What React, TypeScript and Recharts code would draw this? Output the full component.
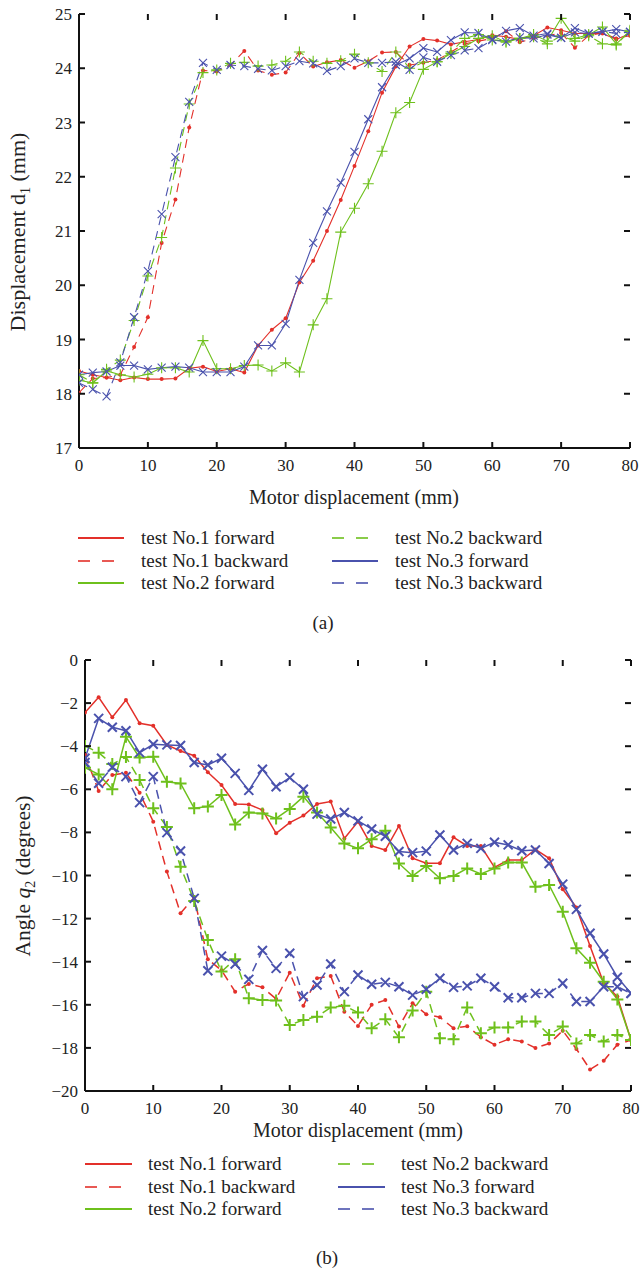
import React from 'react';
import { LineChart, Line, XAxis, YAxis } from 'recharts';

// ---------- data ----------
const MOTOR_X = [0, 2, 4, 6, 8, 10, 12, 14, 16, 18, 20, 22, 24, 26, 28, 30, 32, 34, 36, 38, 40, 42, 44, 46, 48, 50, 52, 54, 56, 58, 60, 62, 64, 66, 68, 70, 72, 74, 76, 78, 80];
const X_TICKS = [0, 10, 20, 30, 40, 50, 60, 70, 80];
const D1_TICKS = [17, 18, 19, 20, 21, 22, 23, 24, 25];
const Q2_TICKS = [0, -2, -4, -6, -8, -10, -12, -14, -16, -18, -20];

// (a) Displacement d1 (mm)
const d1Test1Fwd = [18.42, 18.35, 18.30, 18.25, 18.30, 18.27, 18.27, 18.28, 18.47, 18.50, 18.41, 18.46, 18.39, 18.89, 19.18, 19.39, 20.05, 20.45, 21.00, 21.57, 22.20, 22.84, 23.55, 24.03, 24.40, 24.54, 24.51, 24.44, 24.49, 24.53, 24.61, 24.58, 24.53, 24.60, 24.75, 24.70, 24.64, 24.64, 24.64, 24.53, 24.64];
const d1Test1Bwd = [18.02, 18.28, 18.30, 18.35, 18.86, 19.41, 20.78, 21.58, 22.91, 23.96, 23.94, 24.06, 24.32, 23.96, 23.88, 23.92, 24.28, 24.03, 24.11, 24.15, 24.01, 24.13, 24.29, 24.30, 24.06, 24.10, 24.15, 24.30, 24.45, 24.50, 24.55, 24.68, 24.48, 24.55, 24.60, 24.65, 24.38, 24.60, 24.65, 24.55, 24.60];
const d1Test2Fwd = [18.25, 18.20, 18.42, 18.35, 18.31, 18.36, 18.48, 18.48, 18.40, 18.98, 18.46, 18.46, 18.52, 18.53, 18.42, 18.57, 18.40, 19.27, 19.75, 20.98, 21.42, 21.87, 22.47, 23.18, 23.37, 23.98, 24.12, 24.27, 24.40, 24.55, 24.60, 24.48, 24.55, 24.62, 24.50, 24.92, 24.55, 24.62, 24.76, 24.45, 24.68];
const d1Test2Bwd = [18.35, 18.20, 18.45, 18.62, 19.35, 20.17, 20.88, 22.16, 23.34, 23.92, 23.97, 24.09, 24.11, 24.04, 24.06, 24.13, 24.30, 24.13, 24.09, 24.14, 24.26, 24.10, 23.94, 24.30, 24.00, 24.11, 24.12, 24.30, 24.55, 24.62, 24.52, 24.50, 24.55, 24.58, 24.45, 24.60, 24.50, 24.60, 24.45, 24.43, 24.70];
const d1Test3Fwd = [18.35, 18.39, 18.41, 18.52, 18.52, 18.45, 18.48, 18.50, 18.48, 18.40, 18.40, 18.40, 18.50, 18.89, 18.89, 19.29, 20.10, 20.78, 21.36, 21.89, 22.46, 23.06, 23.65, 24.06, 24.18, 24.37, 24.30, 24.52, 24.66, 24.65, 24.53, 24.69, 24.74, 24.60, 24.64, 24.56, 24.74, 24.64, 24.67, 24.72, 24.67];
const d1Test3Bwd = [18.20, 18.08, 17.95, 18.58, 19.41, 20.26, 21.31, 22.36, 23.38, 24.10, 23.97, 24.06, 24.04, 23.99, 23.96, 24.04, 24.13, 24.09, 23.95, 24.04, 24.18, 24.10, 24.10, 24.12, 23.97, 24.20, 24.12, 24.24, 24.33, 24.37, 24.52, 24.49, 24.57, 24.55, 24.62, 24.56, 24.66, 24.64, 24.68, 24.64, 24.67];

// (b) Angle q2 (degrees)
const q2Test1Fwd = [-2.44, -1.73, -2.66, -1.86, -2.94, -3.05, -3.94, -4.22, -4.44, -5.21, -5.80, -6.68, -6.70, -6.96, -8.04, -7.55, -7.22, -6.68, -6.57, -8.28, -7.50, -8.63, -8.82, -7.70, -9.20, -9.43, -9.43, -8.23, -8.63, -8.63, -9.62, -9.28, -9.28, -8.79, -9.20, -10.64, -11.48, -13.27, -15.00, -15.62, -17.63];
const q2Test1Bwd = [-4.41, -6.08, -5.34, -5.23, -6.16, -7.50, -9.82, -11.75, -11.01, -13.89, -14.40, -15.39, -15.03, -15.19, -15.73, -14.51, -16.04, -14.77, -14.66, -16.32, -16.98, -16.00, -15.78, -17.01, -15.93, -16.44, -16.58, -17.09, -17.00, -17.50, -17.85, -17.60, -17.70, -18.00, -17.80, -17.20, -18.05, -19.00, -18.60, -17.85, -17.63];
const q2Test2Fwd = [-5.00, -5.31, -6.00, -3.56, -4.53, -4.49, -5.65, -5.73, -6.88, -6.80, -6.26, -7.63, -7.08, -7.12, -7.35, -6.91, -6.34, -7.08, -7.77, -8.51, -8.74, -8.32, -7.92, -9.44, -10.02, -9.56, -10.13, -10.02, -9.67, -9.93, -9.67, -9.40, -9.40, -10.52, -10.44, -11.68, -13.38, -14.05, -14.93, -15.75, -17.63];
const q2Test2Bwd = [-3.99, -4.30, -4.83, -4.50, -5.57, -6.88, -7.75, -9.59, -11.18, -12.99, -14.46, -13.89, -15.70, -15.78, -15.80, -16.94, -16.70, -16.55, -16.12, -16.04, -16.36, -17.09, -16.67, -17.51, -16.27, -15.39, -17.55, -17.60, -16.12, -17.32, -17.05, -17.05, -16.78, -16.78, -17.40, -17.01, -17.80, -17.40, -17.70, -17.40, -17.63];
const q2Test3Fwd = [-4.56, -2.71, -3.12, -3.28, -4.30, -3.91, -3.94, -3.97, -4.76, -4.87, -4.56, -5.26, -6.05, -5.07, -5.88, -5.46, -6.00, -7.15, -7.38, -7.08, -7.47, -7.84, -8.18, -8.89, -8.94, -8.87, -8.12, -8.82, -8.51, -8.74, -8.46, -8.58, -8.85, -8.82, -9.44, -10.40, -11.57, -12.68, -13.64, -14.72, -15.47];
const q2Test3Bwd = [-4.76, -5.72, -4.98, -5.41, -6.62, -5.41, -8.01, -8.86, -11.06, -14.42, -13.74, -14.11, -14.82, -13.48, -14.31, -13.61, -15.62, -15.08, -14.11, -15.39, -14.62, -15.05, -14.96, -15.16, -15.55, -15.28, -14.77, -15.19, -15.12, -14.77, -15.16, -15.67, -15.67, -15.47, -15.47, -15.00, -15.85, -15.85, -15.16, -15.16, -15.47];

const LEGEND_LABELS = ['test No.1 forward', 'test No.1 backward', 'test No.2 forward', 'test No.2 backward', 'test No.3 forward', 'test No.3 backward'];

// ---------- styles ----------
const RED = '#e3302a';
const GREEN = '#6ec01c';
const BLUE = '#4a52ad';
const FONT = '"Liberation Serif", "DejaVu Serif", serif';
const DASH = '9 6';

const topData = MOTOR_X.map((x, i) => ({
  x,
  t1f: d1Test1Fwd[i], t1b: d1Test1Bwd[i],
  t2f: d1Test2Fwd[i], t2b: d1Test2Bwd[i],
  t3f: d1Test3Fwd[i], t3b: d1Test3Bwd[i],
}));
const botData = MOTOR_X.map((x, i) => ({
  x,
  t1f: q2Test1Fwd[i], t1b: q2Test1Bwd[i],
  t2f: q2Test2Fwd[i], t2b: q2Test2Bwd[i],
  t3f: q2Test3Fwd[i], t3b: q2Test3Bwd[i],
}));

type Kind = 'dot' | 'plus' | 'x';
const makeDot = (kind: Kind, color: string, size: number, sw: number) => (props: any) => {
  const { cx, cy, index } = props;
  const k = `m-${kind}-${color}-${index}`;
  if (cx == null || cy == null || isNaN(cx) || isNaN(cy)) return <g key={k} />;
  if (kind === 'dot') return <circle key={k} cx={cx} cy={cy} r={size} fill={color} />;
  if (kind === 'plus')
    return <path key={k} d={`M${cx - size},${cy}H${cx + size}M${cx},${cy - size}V${cy + size}`} stroke={color} strokeWidth={sw} fill="none" />;
  return <path key={k} d={`M${cx - size},${cy - size}L${cx + size},${cy + size}M${cx - size},${cy + size}L${cx + size},${cy - size}`} stroke={color} strokeWidth={sw} fill="none" />;
};

const fmt = (v: number) => (v < 0 ? '\u2212' + Math.abs(v) : String(v));

const makeXTick = (pt: number, pb: number) => (props: any) => {
  const { x, payload } = props;
  return (
    <g>
      <line x1={x} x2={x} y1={pb} y2={pb - 6} stroke="#111" strokeWidth={2} />
      <line x1={x} x2={x} y1={pt} y2={pt + 6} stroke="#111" strokeWidth={2} />
      <text x={x} y={pb + 23} textAnchor="middle" fontFamily={FONT} fontSize={17} fill="#222">{fmt(payload.value)}</text>
    </g>
  );
};
const makeYTick = (pl: number, pr: number) => (props: any) => {
  const { y, payload } = props;
  return (
    <g>
      <line x1={pl} x2={pl + 6} y1={y} y2={y} stroke="#111" strokeWidth={2} />
      <line x1={pr} x2={pr - 6} y1={y} y2={y} stroke="#111" strokeWidth={2} />
      <text x={pl - 7} y={y + 6} textAnchor="end" fontFamily={FONT} fontSize={17} fill="#222">{fmt(payload.value)}</text>
    </g>
  );
};

type SeriesDef = { key: string; color: string; dashed: boolean; kind: Kind };
const SERIES: SeriesDef[] = [
  { key: 't1f', color: RED, dashed: false, kind: 'dot' },
  { key: 't1b', color: RED, dashed: true, kind: 'dot' },
  { key: 't2f', color: GREEN, dashed: false, kind: 'plus' },
  { key: 't2b', color: GREEN, dashed: true, kind: 'plus' },
  { key: 't3f', color: BLUE, dashed: false, kind: 'x' },
  { key: 't3b', color: BLUE, dashed: true, kind: 'x' },
];

const renderLines = (sizes: { dot: number; plus: number; x: number }, lw: number, msw: number) =>
  SERIES.map((s) => (
    <Line
      key={s.key}
      type="linear"
      dataKey={s.key}
      stroke={s.color}
      strokeWidth={lw}
      strokeDasharray={s.dashed ? DASH : undefined}
      dot={makeDot(s.kind, s.color, sizes[s.kind], msw)}
      activeDot={false}
      isAnimationActive={false}
    />
  ));

const Legend = ({ top, left1, left2, lineW, textGap, rowH }: any) => {
  const order = [
    [0, 1, 2],
    [3, 4, 5],
  ];
  return (
    <>
      {order.map((col, ci) =>
        col.map((si, ri) => {
          const s = SERIES[si];
          const left = ci === 0 ? left1 : left2;
          const y = top + ri * rowH;
          return (
            <div key={`${ci}-${ri}`} style={{ position: 'absolute', left, top: y - 11, height: 22, display: 'flex', alignItems: 'center', whiteSpace: 'nowrap' }}>
              <svg width={lineW} height={22} style={{ display: 'block' }}>
                <line x1={0} x2={lineW} y1={11} y2={11} stroke={s.color} strokeWidth={2} strokeDasharray={s.dashed ? '12 12' : undefined} opacity={s.dashed ? 0.8 : 1} />
              </svg>
              <span style={{ marginLeft: textGap, fontFamily: FONT, fontSize: 19, color: '#222', lineHeight: '22px' }}>{LEGEND_LABELS[si]}</span>
            </div>
          );
        })
      )}
    </>
  );
};

const textStyle: React.CSSProperties = { position: 'absolute', fontFamily: FONT, fontSize: 20, color: '#222', whiteSpace: 'nowrap', lineHeight: '22px' };

export default function App() {
  const T = { pl: 79, pr: 630, pt: 14, pb: 448 };
  const B = { pl: 85, pr: 631, pt: 20, pb: 451 };
  return (
    <div style={{ position: 'absolute', left: 0, top: 0, width: 640, height: 1278, background: '#fff', overflow: 'hidden' }}>
      <div style={{ position: 'absolute', left: 0, top: 0 }}>
        <LineChart width={640} height={480} data={topData} margin={{ top: 14, right: 10, bottom: 2, left: 0 }}>
          <XAxis xAxisId={0} dataKey="x" type="number" domain={[0, 80]} ticks={X_TICKS} interval={0} height={30}
            axisLine={{ stroke: '#111', strokeWidth: 2 }} tickLine={false} tick={makeXTick(T.pt, T.pb)} allowDataOverflow />
          <XAxis xAxisId="top" orientation="top" type="number" domain={[0, 80]} height={0} axisLine={{ stroke: '#111', strokeWidth: 2 }} tick={false} tickLine={false} />
          <YAxis yAxisId={0} type="number" domain={[17, 25]} ticks={D1_TICKS} interval={0} width={79}
            axisLine={{ stroke: '#111', strokeWidth: 2 }} tickLine={false} tick={makeYTick(T.pl, T.pr)} allowDataOverflow />
          <YAxis yAxisId="right" orientation="right" type="number" domain={[17, 25]} width={0} axisLine={{ stroke: '#111', strokeWidth: 2 }} tick={false} tickLine={false} />
          {renderLines({ dot: 2, plus: 5.5, x: 4 }, 1.1, 1.1)}
        </LineChart>
      </div>
      <div style={{ ...textStyle, fontSize: 22, left: 22, top: 232, transform: 'translate(-50%, -50%) rotate(-90deg)' }}>
        Displacement d<sub style={{ fontSize: 14 }}>1</sub> (mm)
      </div>
      <div style={{ ...textStyle, left: 354, top: 497, transform: 'translate(-50%, -50%)' }}>Motor displacement (mm)</div>
      <Legend top={538} left1={78} left2={332} lineW={46} textGap={17} rowH={22.5} />
      <div style={{ ...textStyle, fontSize: 19, left: 323, top: 623, transform: 'translate(-50%, -50%)' }}>(a)</div>

      <div style={{ position: 'absolute', left: 0, top: 640 }}>
        <LineChart width={640} height={480} data={botData} margin={{ top: 20, right: 9, bottom: 9, left: 0 }}>
          <XAxis xAxisId={0} dataKey="x" type="number" domain={[0, 80]} ticks={X_TICKS} interval={0} height={20}
            axisLine={{ stroke: '#111', strokeWidth: 2 }} tickLine={false} tick={makeXTick(B.pt, B.pb)} allowDataOverflow />
          <XAxis xAxisId="top" orientation="top" type="number" domain={[0, 80]} height={0} axisLine={{ stroke: '#111', strokeWidth: 2 }} tick={false} tickLine={false} />
          <YAxis yAxisId={0} type="number" domain={[-20, 0]} ticks={Q2_TICKS} interval={0} width={85}
            axisLine={{ stroke: '#111', strokeWidth: 2 }} tickLine={false} tick={makeYTick(B.pl, B.pr)} allowDataOverflow />
          <YAxis yAxisId="right" orientation="right" type="number" domain={[-20, 0]} width={0} axisLine={{ stroke: '#111', strokeWidth: 2 }} tick={false} tickLine={false} />
          {renderLines({ dot: 2, plus: 6, x: 4.5 }, 1.5, 2)}
        </LineChart>
      </div>
      <div style={{ ...textStyle, fontSize: 21.5, left: 27, top: 876, transform: 'translate(-50%, -50%) rotate(-90deg)' }}>
        Angle <i>q</i><sub style={{ fontSize: 14 }}>2</sub> (degrees)
      </div>
      <div style={{ ...textStyle, left: 358, top: 1130, transform: 'translate(-50%, -50%)' }}>Motor displacement (mm)</div>
      <Legend top={1164} left1={85} left2={338} lineW={47} textGap={16} rowH={22.5} />
      <div style={{ ...textStyle, fontSize: 19, left: 327, top: 1258, transform: 'translate(-50%, -50%)' }}>(b)</div>
    </div>
  );
}
